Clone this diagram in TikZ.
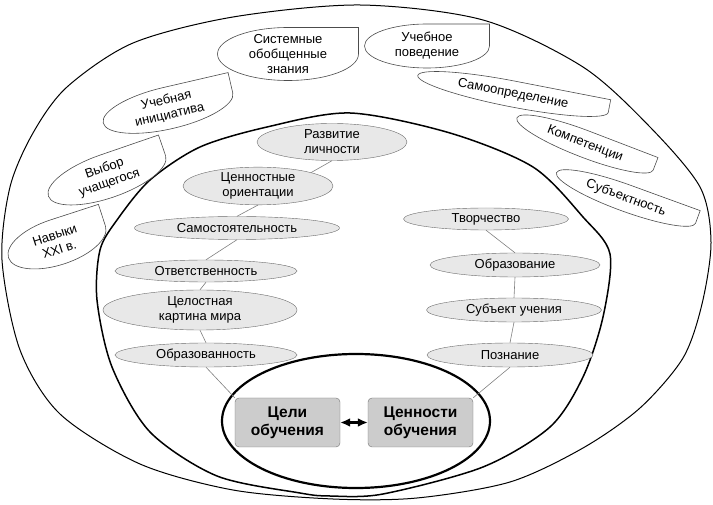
\documentclass[tikz,border=0pt]{standalone}
\usepackage{fontspec}
\setmainfont{Liberation Sans}
\usetikzlibrary{arrows,arrows.meta,shapes.geometric}

\begin{document}
\begin{tikzpicture}[x=1pt, y=1pt,
  font=\fontsize{13}{15}\selectfont,
  value/.style={ellipse, draw=black!58, fill=black!9, inner sep=0pt, align=center},
  goal/.style={rectangle, rounded corners=4pt, draw=black!55, fill=black!20, minimum width=105, minimum height=49, align=center, font=\fontsize{15.5}{18}\selectfont\bfseries},
  tag/.style={draw=black!70, fill=white, line width=0.6pt},
  tagtext/.style={align=center, inner sep=0pt},
  link/.style={draw=black!50, line width=0.6pt},
  ring/.style={draw=black, line width=1pt}
]
\useasboundingbox (0,0) rectangle (713,504);

% Outer ring
\draw[ring] plot[smooth cycle, tension=0.5] coordinates {(360,499) (483,484) (583,437) (650,377) (700,317) (711,262) (702,200) (683,146) (640,96) (583,56) (510,22) (417,6) (333,5) (233,14) (140,40) (60,90) (20,154) (2,244) (10,317) (33,371) (67,417) (133,461) (233,487)};
% Middle ring
\draw[ring, line width=1.5pt] plot[smooth cycle, tension=0.5] coordinates {(350,391) (450,371) (533,337) (583,287) (610,250) (603,187) (583,127) (550,77) (483,37) (383,10) (330,8) (300,11) (217,28) (150,72) (112,137) (97,204) (100,254) (117,284) (150,324) (200,357) (267,377)};
% Inner ellipse
\draw[ring, line width=2.2pt] (356,83) ellipse [x radius=134, y radius=67];

% Tags in the outer ring
\foreach \nm/\px/\py/\ang/\w/\h/\txt in {
  sysknow/288/450/0/141/53/{Системные\\обобщенные\\знания},
  behav/427/458/0/125/44/{Учебное\\поведение},
  selfdet/513/410/-11/194/26/{Самоопределение},
  compet/585/360/-21/146/27/{Компетенции},
  subjness/626/306/-20/148/27/{Субъектность},
  initiat/168/396/13/133/42/{Учебная\\инициатива},
  choice/107/328/19/124/44/{Выбор\\учащегося},
  skills/57/262/18/102/46/{Навыки\\XXI в.}}{
  \begin{scope}[shift={(\px,\py)}, rotate=\ang]
    \draw[tag] (\w/2,\h/2) -- (0,\h/2) arc[start angle=90, end angle=360, x radius=\w/2, y radius=\h/2] -- cycle;
  \end{scope}
  \node[tagtext, rotate=\ang] (\nm) at (\px,\py) {\txt};
}

% Left column
\node[value, minimum width=150, minimum height=37] (growth) at (332,362) {Развитие\\личности};
\node[value, minimum width=150, minimum height=35] (orient) at (258,318) {Ценностные\\ориентации};
\node[value, minimum width=205, minimum height=23] (autonomy) at (237,276) {Самостоятельность};
\node[value, minimum width=182, minimum height=22] (respons) at (206,233) {Ответственность};
\node[value, minimum width=194, minimum height=40] (worldview) at (200,194) {Целостная\\картина мира};
\node[value, minimum width=182, minimum height=24] (erudition) at (206,149) {Образованность};

% Right column
\node[value, minimum width=165, minimum height=22] (creativity) at (486,285) {Творчество};
\node[value, minimum width=170, minimum height=24] (education) at (515,239) {Образование};
\node[value, minimum width=175, minimum height=24] (learner) at (514,194) {Субъект учения};
\node[value, minimum width=166, minimum height=24] (cognition) at (510,149) {Познание};

% Core
\node[goal] (aims) at (287.5,81.5) {Цели\\обучения};
\node[goal] (values) at (420.5,81.5) {Ценности\\обучения};
\draw[{Latex[length=10pt,width=9pt]}-{Latex[length=10pt,width=9pt]}, line width=2.2pt] (aims.east) -- (values.west);

% Links
\foreach \a/\b in {growth.south/orient.north east, orient.south/autonomy.north, autonomy.south/respons.north,
  respons.south/worldview.north, worldview.south/erudition.north, erudition.south/aims.north west,
  creativity.south/education.north, education.south/learner.north, learner.south/cognition.north,
  cognition.south/values.north east}
  \draw[link] (\a) -- (\b);
\end{tikzpicture}
\end{document}
